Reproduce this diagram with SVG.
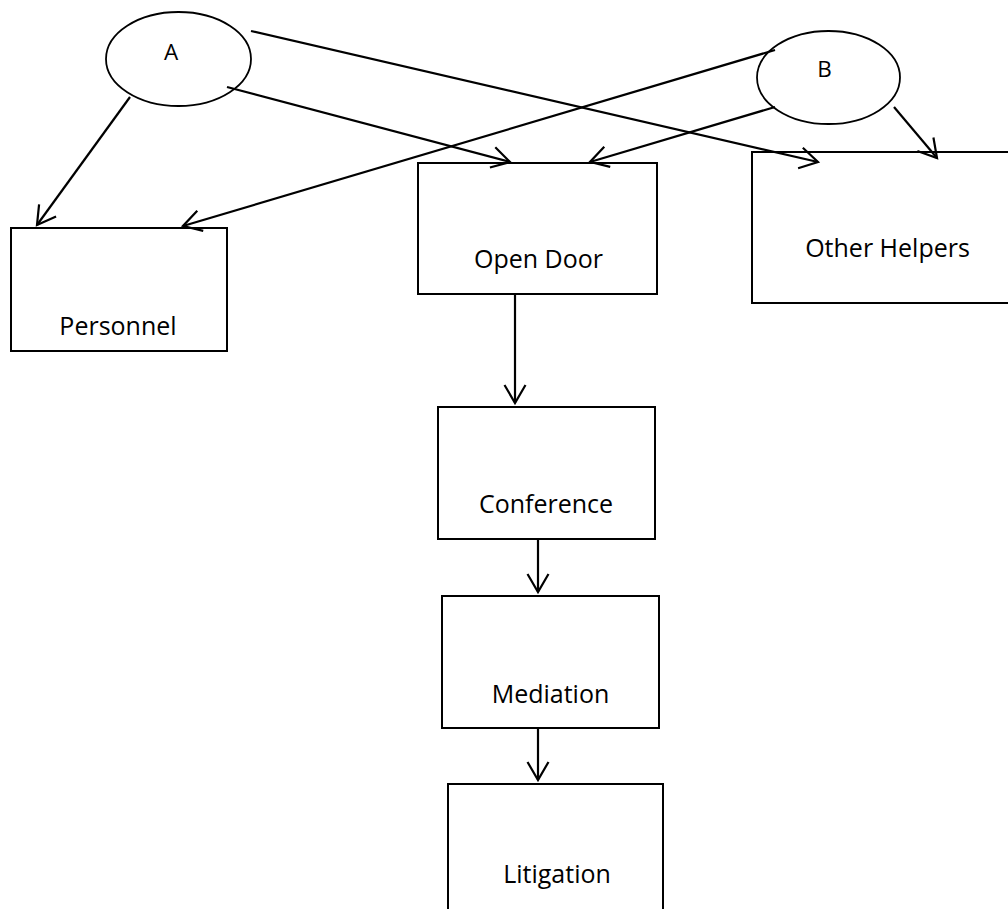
<svg xmlns="http://www.w3.org/2000/svg" width="1008" height="909" viewBox="0 0 1008 909">
<style>
.box{fill:#fff;stroke:#000;stroke-width:2}
.ell{fill:#fff;stroke:#000;stroke-width:1.8}
.lbl{font-family:"Open Sans","Noto Sans",sans-serif;font-size:25px;fill:#000;text-anchor:middle}
.small{font-size:22.5px}
.con line{stroke:#000;stroke-width:2.2;marker-end:url(#ah)}
</style>
<defs>
<marker id="ah" viewBox="0 0 22 24" markerWidth="22" markerHeight="24" refX="19" refY="12" orient="auto" markerUnits="userSpaceOnUse">
<path d="M1,1.5 L19,12 L1,22.5" fill="none" stroke="#000" stroke-width="2.2"/>
</marker>
</defs>
<rect width="1008" height="909" fill="#fff"/>
<g id="personnel"><rect class="box" x="11" y="228" width="216" height="123"/><text class="lbl" x="118" y="335">Personnel</text></g>
<g id="open-door"><rect class="box" x="418" y="163" width="239" height="131"/><text class="lbl" x="538.5" y="268">Open Door</text></g>
<g id="other-helpers"><rect class="box" x="752" y="152" width="262" height="151"/><text class="lbl" x="887.5" y="257">Other Helpers</text></g>
<g id="conference"><rect class="box" x="438" y="407" width="217" height="132"/><text class="lbl" x="546" y="513">Conference</text></g>
<g id="mediation"><rect class="box" x="442" y="596" width="217" height="132"/><text class="lbl" x="550.5" y="703">Mediation</text></g>
<g id="litigation"><rect class="box" x="448" y="784" width="215" height="140"/><text class="lbl" x="557" y="883">Litigation</text></g>
<g id="a"><ellipse class="ell" cx="178.5" cy="59" rx="72.5" ry="47"/><text class="lbl small" x="171" y="60">A</text></g>
<g id="b"><ellipse class="ell" cx="828.5" cy="77.5" rx="71.5" ry="46.5"/><text class="lbl small" x="824.5" y="77">B</text></g>
<g id="connectors" class="con">
<line x1="130" y1="97" x2="37" y2="225"/>
<line x1="227" y1="87" x2="510" y2="162"/>
<line x1="251" y1="31" x2="818" y2="162"/>
<line x1="775" y1="50" x2="183" y2="226"/>
<line x1="775" y1="107" x2="590" y2="162"/>
<line x1="894" y1="107" x2="937" y2="158"/>
<line x1="515" y1="294" x2="515" y2="403"/>
<line x1="538" y1="539" x2="538" y2="592"/>
<line x1="538" y1="728" x2="538" y2="780"/>
</g>
</svg>
